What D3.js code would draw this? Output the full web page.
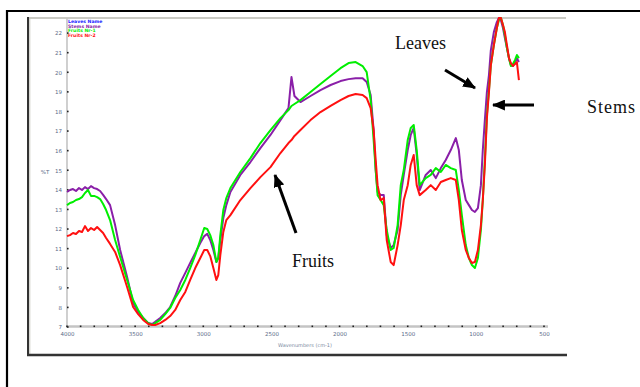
<!DOCTYPE html>
<html><head><meta charset="utf-8">
<script src="https://cdn.jsdelivr.net/npm/d3@7"></script>
<style>html,body{margin:0;padding:0;background:#fff}svg{display:block}</style>
</head><body>
<svg id="c" width="640" height="387"></svg>
<script>
// ---- data ----
const wavenumbers = [4000,3978,3956,3934,3912,3890,3868,3846,3824,3801,3779,3757,3735,3713,3684,3647,3610,3559,3515,3478,3441,3404,3375,3353,3316,3279,3243,3206,3169,3132,3096,3059,3022,2993,2971,2949,2926,2904,2890,2875,2853,2831,2801,2728,2654,2581,2507,2434,2375,2353,2331,2287,2213,2140,2066,1993,1934,1882,1831,1801,1772,1750,1735,1721,1699,1676,1654,1625,1603,1574,1551,1529,1500,1478,1456,1434,1412,1368,1331,1294,1257,1221,1184,1147,1125,1103,1074,1051,1029,1007,985,963,949,934,919,904,890,868,846,831,816,801,787,772,757,743,728,713,699,684];
const purpleValues = [13.89,13.99,14.04,13.94,14.09,13.99,14.14,14.04,14.19,14.09,14.04,13.94,13.74,13.53,13.22,12.20,10.93,9.55,8.22,7.76,7.46,7.20,7.15,7.26,7.46,7.71,8.02,8.58,9.25,9.76,10.27,10.78,11.29,11.64,11.75,11.44,10.93,10.32,10.52,11.44,12.56,13.22,13.89,14.76,15.42,16.13,16.80,17.56,18.17,19.76,18.79,18.48,18.79,19.09,19.35,19.55,19.65,19.70,19.70,19.50,18.84,17.05,15.01,13.89,13.74,13.74,11.69,11.03,11.18,11.95,13.74,14.76,16.03,16.80,17.16,15.78,13.99,14.76,15.01,14.60,15.11,15.52,16.03,16.64,16.03,14.50,13.48,13.22,12.97,12.87,13.07,14.24,16.03,17.56,18.99,19.86,21.13,22.05,22.56,22.77,22.66,22.26,21.75,21.24,20.72,20.37,20.32,20.52,20.72,20.52];
const greenValues = [13.22,13.33,13.38,13.48,13.53,13.63,13.84,13.99,13.69,13.69,13.63,13.53,13.28,12.97,12.46,11.44,10.57,9.40,8.38,7.87,7.46,7.20,7.10,7.20,7.36,7.66,7.97,8.48,8.89,9.40,10.01,10.67,11.44,12.05,12.00,11.69,11.18,10.32,10.52,11.69,12.97,13.58,14.09,14.91,15.62,16.39,17.05,17.66,18.07,18.28,18.38,18.58,18.99,19.40,19.81,20.21,20.47,20.52,20.32,20.01,18.58,16.54,15.01,13.73,13.48,13.22,11.95,10.93,11.03,12.20,14.24,15.01,16.54,17.16,17.31,16.03,14.24,14.60,14.76,15.11,14.91,15.27,15.11,15.01,13.99,12.71,11.18,10.52,10.16,10.01,10.52,11.95,13.48,15.52,17.82,19.09,20.37,21.39,22.26,22.66,22.77,22.41,21.90,21.24,20.72,20.32,20.42,20.62,20.88,20.72];
const redValues = [11.64,11.69,11.80,11.75,11.90,11.85,12.15,11.90,12.05,11.95,12.10,11.95,11.80,11.54,11.24,10.83,10.16,9.04,8.02,7.66,7.36,7.15,7.10,7.10,7.20,7.36,7.56,7.87,8.38,8.79,9.40,10.01,10.52,10.93,10.93,10.62,10.01,9.40,9.65,10.67,11.85,12.46,12.71,13.48,14.09,14.65,15.16,15.88,16.39,16.54,16.75,17.05,17.56,17.97,18.28,18.58,18.79,18.89,18.84,18.68,18.17,17.05,15.52,14.24,13.48,13.58,11.44,10.32,10.16,11.18,12.20,13.48,14.24,15.27,15.78,14.24,13.73,13.99,14.24,13.99,14.40,14.50,14.60,14.50,13.48,11.95,10.93,10.52,10.27,10.32,10.93,12.20,13.48,15.27,17.66,18.99,20.37,21.39,22.26,22.77,22.77,22.41,22.05,21.39,20.72,20.47,20.32,20.42,20.52,19.60];
const legendNames = ["Leaves Name","Stems Name","Fruits Nr-1","Fruits Nr-2"];
const legendColors = ["#2020ff","#8a1fa8","#00ee00","#ff1010"];
const xTickLabels = [4000,3500,3000,2500,2000,1500,1000,500];
const yTickLabels = [7,8,9,10,11,12,13,14,15,16,17,18,19,20,21,22];
const xMinorTicks = [4000,3900,3800,3700,3600,3500,3400,3300,3200,3100,3000,2900,2800,2700,2600,2500,2400,2300,2200,2100,2000,1900,1800,1700,1600,1500,1400,1300,1200,1100,1000,900,800,700,600,500];

const svg = d3.select("#c");
svg.append("rect").attr("width",640).attr("height",387).attr("fill","#fff");

const x = d3.scaleLinear().domain([4000,500]).range([67,544]);
const y = d3.scaleLinear().domain([7,22.77]).range([327,18]);

// outer frame
svg.append("path").attr("d","M7,387 V11 H640").attr("fill","none").attr("stroke","#000").attr("stroke-width",2.2);
// inner picture frame
svg.append("line").attr("x1",27).attr("x2",566).attr("y1",18).attr("y2",18).attr("stroke","#b8b8b0").attr("stroke-width",1.6);
svg.append("line").attr("x1",28).attr("x2",28).attr("y1",17).attr("y2",356).attr("stroke","#333").attr("stroke-width",2);
svg.append("line").attr("x1",29.8).attr("x2",29.8).attr("y1",17).attr("y2",354).attr("stroke","#c8c8c0").attr("stroke-width",1);
svg.append("line").attr("x1",27).attr("x2",567).attr("y1",355).attr("y2",355).attr("stroke","#333").attr("stroke-width",2.4);

// axes lines
svg.append("line").attr("x1",67).attr("x2",67).attr("y1",18).attr("y2",327).attr("stroke","#c4c4c4").attr("stroke-width",1.6);
svg.append("line").attr("x1",66).attr("x2",548).attr("y1",326.5).attr("y2",326.5).attr("stroke","#c4c4c4").attr("stroke-width",2.6);

// tick dots
svg.append("g").selectAll("rect").data(xMinorTicks).join("rect")
  .attr("x",d=>x(d)-0.8).attr("y",325.5).attr("width",1.6).attr("height",1.6).attr("fill","#222");
svg.append("g").selectAll("rect").data(yTickLabels).join("rect")
  .attr("x",67).attr("y",d=>y(d)-0.8).attr("width",1.6).attr("height",1.6).attr("fill","#222");

const tickFont = "'DejaVu Sans', sans-serif";
const xa = svg.append("g").attr("transform","translate(0,327)")
  .call(d3.axisBottom(x).tickValues(xTickLabels).tickSize(0).tickPadding(5).tickFormat(d=>String(d)));
xa.select(".domain").remove();
xa.selectAll("text").attr("font-size",5.5).attr("font-family",tickFont).attr("fill","#5a6a88");

const ya = svg.append("g").attr("transform","translate(62,0)")
  .call(d3.axisLeft(y).tickValues(yTickLabels).tickSize(0).tickPadding(0).tickFormat(d=>String(d)));
ya.select(".domain").remove();
ya.selectAll("text").attr("font-size",5.5).attr("font-family",tickFont).attr("fill","#5a6a88");

svg.append("text").attr("x",305).attr("y",347).attr("text-anchor","middle")
  .attr("font-size",5).attr("font-family",tickFont).attr("fill","#7a8aa0").text("Wavenumbers (cm-1)");
svg.append("text").attr("x",45).attr("y",174).attr("text-anchor","middle")
  .attr("font-size",5.5).attr("font-family",tickFont).attr("fill","#5a6a88").text("%T");

// legend
svg.append("g").selectAll("text").data(legendNames).join("text")
  .attr("x",68).attr("y",(d,i)=>23+i*4.5).attr("font-size",4.6).attr("font-weight","bold")
  .attr("font-family",tickFont).attr("fill",(d,i)=>legendColors[i]).text(d=>d);

// series
const series = [
  {vals: purpleValues, color: legendColors[1]},
  {vals: greenValues, color: legendColors[2]},
  {vals: redValues, color: legendColors[3]}
];
const line = d3.line().x(d=>x(d[0])).y(d=>y(d[1]));
svg.append("g").selectAll("path").data(series).join("path")
  .attr("d",s=>line(wavenumbers.map((w,i)=>[w,s.vals[i]])))
  .attr("fill","none").attr("stroke",s=>s.color).attr("stroke-width",2).attr("stroke-linejoin","round");

// annotations
const defs = svg.append("defs");
defs.append("marker").attr("id","ah").attr("markerUnits","userSpaceOnUse")
  .attr("viewBox","0 0 12 10").attr("refX",11).attr("refY",5)
  .attr("markerWidth",13).attr("markerHeight",11).attr("orient","auto")
  .append("path").attr("d","M0,0 L12,5 L0,10 Z").attr("fill","#000");
const arrows = [[445,70,475,88],[534,105,493,105],[296,233,275,175]];
svg.append("g").selectAll("line").data(arrows).join("line")
  .attr("x1",d=>d[0]).attr("y1",d=>d[1]).attr("x2",d=>d[2]).attr("y2",d=>d[3])
  .attr("stroke","#000").attr("stroke-width",3).attr("marker-end","url(#ah)");
const serif = "'Liberation Serif','Times New Roman',serif";
svg.append("text").attr("x",395).attr("y",49).attr("font-size",18).attr("font-family",serif).attr("fill","#111").text("Leaves");
svg.append("text").attr("x",587).attr("y",113).attr("font-size",18).attr("font-family",serif).attr("letter-spacing",1).attr("fill","#111").text("Stems");
svg.append("text").attr("x",292).attr("y",267).attr("font-size",18).attr("font-family",serif).attr("fill","#111").text("Fruits");
</script>
</body></html>
